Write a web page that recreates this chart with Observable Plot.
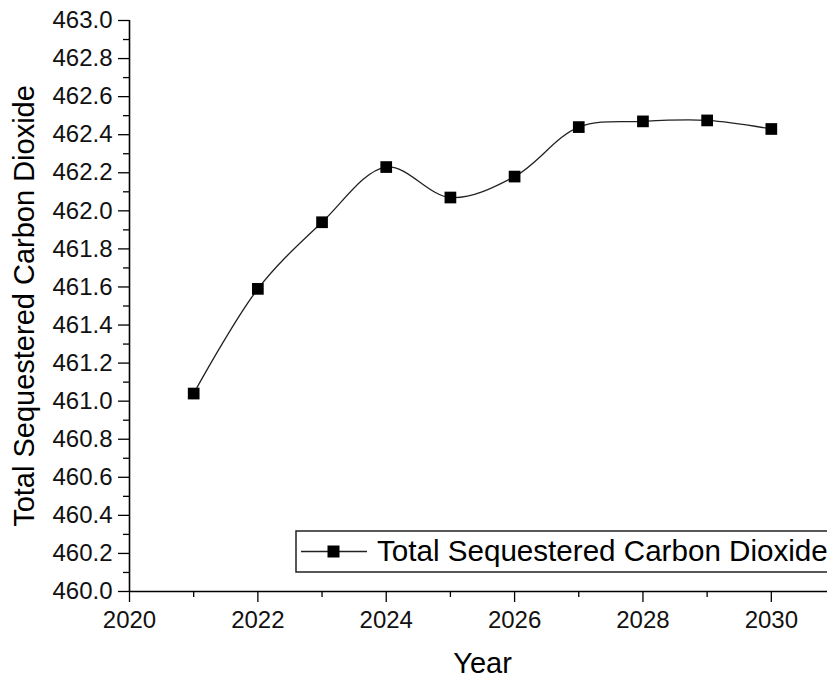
<!DOCTYPE html>
<html>
<head>
<meta charset="utf-8">
<script src="https://cdn.jsdelivr.net/npm/d3@7"></script>
<script src="https://cdn.jsdelivr.net/npm/@observablehq/plot@0.6"></script>
<style>
html, body { margin: 0; padding: 0; background: #fff; overflow: hidden; width: 827px; height: 678px; }
#chart { position: relative; width: 827px; height: 678px; overflow: hidden; }
#chart svg { display: block; max-width: none !important; width: 860px !important; height: 678px !important; }
</style>
</head>
<body>
<div id="chart"></div>
<script>
// ---- data ----
const years = [2021, 2022, 2023, 2024, 2025, 2026, 2027, 2028, 2029, 2030];
const sequestered = [461.04, 461.59, 461.94, 462.23, 462.07, 462.18, 462.44, 462.47, 462.475, 462.43];
const seriesName = "Total Sequestered Carbon Dioxide";
const xTitle = "Year";
const yTitle = "Total Sequestered Carbon Dioxide";
const xDomain = [2020, 2031];
const yDomain = [460, 463];
const xMajorTicks = [2020, 2022, 2024, 2026, 2028, 2030];
const xMinorTicks = [2021, 2023, 2025, 2027, 2029];
const yMajorTicks = [460.0, 460.2, 460.4, 460.6, 460.8, 461.0, 461.2, 461.4, 461.6, 461.8, 462.0, 462.2, 462.4, 462.6, 462.8, 463.0];
const yMinorTicks = [460.1, 460.3, 460.5, 460.7, 460.9, 461.1, 461.3, 461.5, 461.7, 461.9, 462.1, 462.3, 462.5, 462.7, 462.9];

const data = years.map((year, i) => ({year, value: sequestered[i]}));

const W = 860;
const font = "'Liberation Sans', Arial, sans-serif";

const plot = Plot.plot({
  width: W,
  height: 678,
  marginLeft: 129,
  marginRight: W - 835,
  marginTop: 20,
  marginBottom: 87,
  style: {fontFamily: font, fontSize: "24px", color: "#000", background: "#fff", overflow: "visible"},
  x: {domain: xDomain, label: null},
  y: {domain: yDomain, label: null},
  marks: [
    Plot.axisY({ticks: yMinorTicks, tickSize: 6, tickFormat: () => "", label: null, strokeWidth: 1.3}),
    Plot.axisY({ticks: yMajorTicks, tickSize: 11, tickPadding: 6, tickFormat: d => d.toFixed(1), label: null, strokeWidth: 1.3, fill: "#111"}),
    Plot.axisX({ticks: xMinorTicks, tickSize: 6, tickFormat: () => "", label: null, strokeWidth: 1.3}),
    Plot.axisX({ticks: xMajorTicks, tickSize: 11, tickPadding: 8, tickFormat: d => String(d), label: null, strokeWidth: 1.3, fill: "#111"}),
    Plot.ruleX([xDomain[0]], {stroke: "#000", strokeWidth: 1.6}),
    Plot.ruleY([yDomain[0]], {stroke: "#000", strokeWidth: 1.6}),
    Plot.line(data, {x: "year", y: "value", curve: "catmull-rom", stroke: "#222", strokeWidth: 1.3}),
    Plot.dot(data, {x: "year", y: "value", symbol: "square", r: 6.6, fill: "#000", stroke: "none"}),
    Plot.text([xTitle], {frameAnchor: "bottom", dy: 72, fontSize: 29, fill: "#000", textAnchor: "middle", lineAnchor: "middle"}),
    Plot.text([yTitle], {frameAnchor: "left", dx: -105, rotate: -90, fontSize: 29, fill: "#000", textAnchor: "middle", lineAnchor: "middle"})
  ]
});

document.getElementById("chart").appendChild(plot);

// ---- legend (inside plot area, lower right, clipped by the window) ----
const svg = d3.select(plot);
const lg = svg.append("g").attr("class", "legend");
lg.append("rect").attr("x", 296).attr("y", 531).attr("width", 600).attr("height", 41)
  .attr("fill", "#fff").attr("stroke", "#222").attr("stroke-width", 1.5);
lg.append("line").attr("x1", 301).attr("x2", 367).attr("y1", 551.5).attr("y2", 551.5)
  .attr("stroke", "#222").attr("stroke-width", 1.3);
lg.append("rect").attr("x", 327.5).attr("y", 545.5).attr("width", 12).attr("height", 12).attr("fill", "#000");
lg.append("text").attr("x", 377).attr("y", 561).attr("font-size", 29.6).attr("font-family", font)
  .attr("text-anchor", "start").attr("fill", "#000").text(seriesName);
</script>
</body>
</html>
